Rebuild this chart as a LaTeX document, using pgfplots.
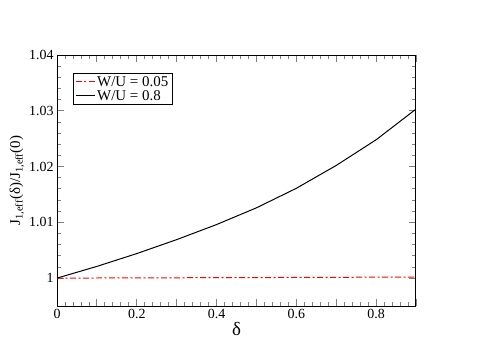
\documentclass[border=0pt]{standalone}
\usepackage{fontspec}
\setmainfont{Liberation Serif}
\usepackage{pgfplots}
\pgfplotsset{compat=1.18}

\begin{document}
\begin{tikzpicture}
\begin{axis}[
    scale only axis,
    width=359bp, height=251bp,
    xmin=0, xmax=0.9,
    ymin=0.995, ymax=1.04,
    xtick={0,0.1,...,0.9},
    xticklabels={0,,0.2,,0.4,,0.6,,0.8,},
    ytick={1,1.01,1.02,1.03,1.04},
    yticklabels={1,1.01,1.02,1.03,1.04},
    minor x tick num=4,
    minor y tick num=4,
    scaled ticks=false,
    tick align=inside,
    major tick length=7bp,
    minor tick length=4bp,
    every tick/.append style={line width=0.8pt},
    axis line style={line width=1pt},
    tick label style={font=\fontsize{14}{16}\selectfont},
    /pgf/number format/assume math mode=true,
    xlabel={δ},
    xlabel style={font=\fontsize{19}{21}\selectfont, yshift=4bp},
    ylabel={J\textsubscript{1,eff}(δ)/J\textsubscript{1,eff}(0)},
    ylabel style={font=\fontsize{15}{17}\selectfont, yshift=-2bp},
    legend style={font=\fontsize{15}{16}\selectfont, at={(0.044,0.929)}, anchor=north west,
        draw=black, line width=0.8pt, inner xsep=2bp, inner ysep=1bp, row sep=-1.5bp},
    legend cell align=left,
    legend image code/.code={\draw[#1] (0bp,0bp) -- (19bp,0bp);},
]
\addplot[color=red, line width=1pt, dash pattern=on 6bp off 2.5bp on 2bp off 2.5bp] coordinates {
(0,1.0000)(0.1,1.00002)(0.2,1.00004)(0.3,1.00006)(0.4,1.00008)(0.5,1.0001)(0.6,1.00012)(0.7,1.00014)(0.8,1.00017)(0.9,1.0002)};
\addplot[color=black, line width=1pt] coordinates {
(0,1.0000)(0.1,1.0021)(0.2,1.0044)(0.3,1.0069)(0.4,1.0096)(0.5,1.0126)(0.6,1.0161)(0.7,1.0202)(0.8,1.0248)(0.9,1.0303)};
\addlegendentry{W/U = 0.05}
\addlegendentry{W/U = 0.8}
\end{axis}
\path[use as bounding box] (-57bp,-46bp) rectangle (441bp,306bp);
\end{tikzpicture}
\end{document}
